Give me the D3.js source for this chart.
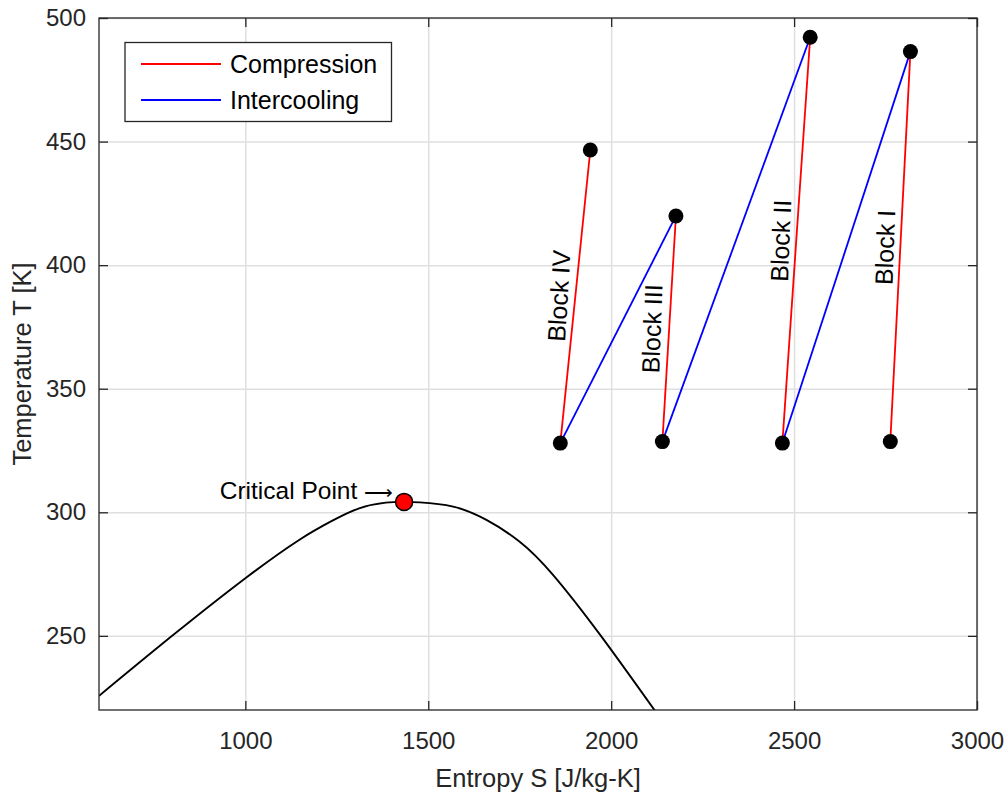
<!DOCTYPE html>
<html>
<head>
<meta charset="utf-8">
<script src="https://cdn.jsdelivr.net/npm/d3@7"></script>
<style>
  body { margin: 0; background: #fff; }
  svg { display: block; font-family: "Liberation Sans", Arial, Helvetica, sans-serif; }
  .axis text { fill: #262626; font-size: 24px; }
  .axis line { stroke: #262626; stroke-width: 1.3; }
  .axis path { display: none; }
  .grid line { stroke: #dfdfdf; stroke-width: 1.5; }
  .grid path { display: none; }
</style>
</head>
<body>
<svg id="chart" width="1008" height="793"></svg>
<script>
// saturation dome (CO2)
const domeS = [600, 800, 1001, 1147, 1238, 1311, 1384, 1434, 1477, 1568, 1659, 1750, 1841, 1972, 2125];
const domeT = [225.7, 250, 273.4, 288.8, 296.6, 301.6, 303.9, 304.2, 304.0, 302.3, 296.9, 288.1, 274.7, 250, 218.6];

// compressor blocks, ordered IV, III, II, I
const blockNames = ['Block IV', 'Block III', 'Block II', 'Block I'];
const inletS = [1861, 2140, 2468, 2763];
const inletT = [328.0, 328.6, 328.0, 328.6];
const outletS = [1943, 2177, 2544, 2818];
const outletT = [446.6, 419.9, 492.2, 486.4];
// label anchor points and tilt from vertical (deg)
const labelS = [1857, 2111, 2463, 2748];
const labelT = [387.6, 374.3, 409.9, 407.2];
const labelTilt = [3.4, 2.1, 2.3, 2.1];

const criticalS = 1434;
const criticalT = 304.2;

const xTicks = [1000, 1500, 2000, 2500, 3000];
const yTicks = [250, 300, 350, 400, 450, 500];

const margin = { top: 18, left: 99 };
const chartWidth = 878;
const chartHeight = 692;

const svg = d3.select('#chart');
const g = svg.append('g').attr('transform', `translate(${margin.left}, ${margin.top})`);

const x = d3.scaleLinear().domain([600, 3000]).range([0, chartWidth]);
const y = d3.scaleLinear().domain([220, 500]).range([chartHeight, 0]);

// grid
g.append('g')
  .classed('grid', true)
  .attr('transform', `translate(0, ${chartHeight})`)
  .call(d3.axisBottom(x).tickValues(xTicks).tickSize(-chartHeight).tickFormat(() => ''));
g.append('g')
  .classed('grid', true)
  .call(d3.axisLeft(y).tickValues(yTicks).tickSize(-chartWidth).tickFormat(() => ''));

svg.append('defs').append('clipPath').attr('id', 'clip')
  .append('rect').attr('width', chartWidth).attr('height', chartHeight);

const plot = g.append('g').attr('clip-path', 'url(#clip)');

const dome = domeS.map((s, i) => [s, domeT[i]]);
plot.append('path')
  .datum(dome)
  .attr('fill', 'none')
  .attr('stroke', '#000')
  .attr('stroke-width', 1.9)
  .attr('d', d3.line().x(d => x(d[0])).y(d => y(d[1])).curve(d3.curveNatural));

// compression lines
blockNames.forEach((name, i) => {
  plot.append('line')
    .attr('x1', x(inletS[i])).attr('y1', y(inletT[i]))
    .attr('x2', x(outletS[i])).attr('y2', y(outletT[i]))
    .attr('stroke', '#ff0000').attr('stroke-width', 1.8);
});
// intercooling: outlet of next block back to inlet of previous one
for (let i = 0; i < blockNames.length - 1; i++) {
  plot.append('line')
    .attr('x1', x(inletS[i])).attr('y1', y(inletT[i]))
    .attr('x2', x(outletS[i + 1])).attr('y2', y(outletT[i + 1]))
    .attr('stroke', '#0000ff').attr('stroke-width', 1.8);
}

const pts = inletS.map((s, i) => [s, inletT[i]]).concat(outletS.map((s, i) => [s, outletT[i]]));
plot.selectAll('.state')
  .data(pts)
  .enter()
  .append('circle')
  .attr('cx', d => x(d[0]))
  .attr('cy', d => y(d[1]))
  .attr('r', 7.5)
  .attr('fill', '#000');

plot.append('circle')
  .attr('cx', x(criticalS)).attr('cy', y(criticalT))
  .attr('r', 8.5)
  .attr('fill', '#ff0000')
  .attr('stroke', '#000')
  .attr('stroke-width', 1.5);

const cpLabel = g.append('text')
  .attr('x', x(criticalS) - 11)
  .attr('y', y(criticalT) - 3)
  .attr('text-anchor', 'end')
  .style('font-size', '24.5px')
  .attr('fill', '#000')
  .text('Critical Point ');
cpLabel.append('tspan')
  .style('font-family', '"DejaVu Sans", sans-serif')
  .style('font-size', '20px')
  .attr('font-weight', 200)
  .text('\u27F6');

blockNames.forEach((name, i) => {
  g.append('text')
    .attr('transform', `translate(${x(labelS[i])}, ${y(labelT[i])}) rotate(${-90 + labelTilt[i]})`)
    .attr('text-anchor', 'middle')
    .attr('dy', '0.36em')
    .style('font-size', '25px')
    .attr('fill', '#000')
    .text(name);
});

// axes
const fmt = d3.format('d');
g.append('g')
  .classed('axis', true)
  .attr('transform', `translate(0, ${chartHeight})`)
  .call(d3.axisBottom(x).tickValues(xTicks).tickFormat(fmt).tickSizeInner(-9).tickSizeOuter(0).tickPadding(22));
g.append('g')
  .classed('axis', true)
  .call(d3.axisLeft(y).tickValues(yTicks).tickFormat(fmt).tickSizeInner(-9).tickSizeOuter(0).tickPadding(13));
g.append('g')
  .classed('axis', true)
  .call(d3.axisTop(x).tickValues(xTicks).tickSizeInner(-9).tickSizeOuter(0).tickFormat(() => ''));
g.append('g')
  .classed('axis', true)
  .attr('transform', `translate(${chartWidth}, 0)`)
  .call(d3.axisRight(y).tickValues(yTicks).tickSizeInner(-9).tickSizeOuter(0).tickFormat(() => ''));

g.append('rect')
  .attr('width', chartWidth)
  .attr('height', chartHeight)
  .attr('fill', 'none')
  .attr('stroke', '#262626')
  .attr('stroke-width', 1.3);

// axis labels
svg.append('text')
  .attr('x', margin.left + chartWidth / 2)
  .attr('y', 787)
  .attr('text-anchor', 'middle')
  .attr('fill', '#262626')
  .style('font-size', '25.5px')
  .text('Entropy S [J/kg-K]');
svg.append('text')
  .attr('transform', `translate(31, ${margin.top + chartHeight / 2}) rotate(-90)`)
  .attr('text-anchor', 'middle')
  .attr('fill', '#262626')
  .style('font-size', '25.5px')
  .text('Temperature T [K]');

// legend
const legend = g.append('g').attr('transform', 'translate(26, 24.5)');
legend.append('rect')
  .attr('width', 266.5)
  .attr('height', 79)
  .attr('fill', '#fff')
  .attr('stroke', '#262626')
  .attr('stroke-width', 1.3);
const legendItems = [['Compression', '#ff0000'], ['Intercooling', '#0000ff']];
legendItems.forEach((item, i) => {
  const yy = 21.5 + i * 36;
  legend.append('line')
    .attr('x1', 16).attr('x2', 96)
    .attr('y1', yy).attr('y2', yy)
    .attr('stroke', item[1]).attr('stroke-width', 1.8);
  legend.append('text')
    .attr('x', 105)
    .attr('y', yy)
    .attr('dy', '0.35em')
    .style('font-size', '25px')
    .attr('fill', '#000')
    .text(item[0]);
});
</script>
</body>
</html>
